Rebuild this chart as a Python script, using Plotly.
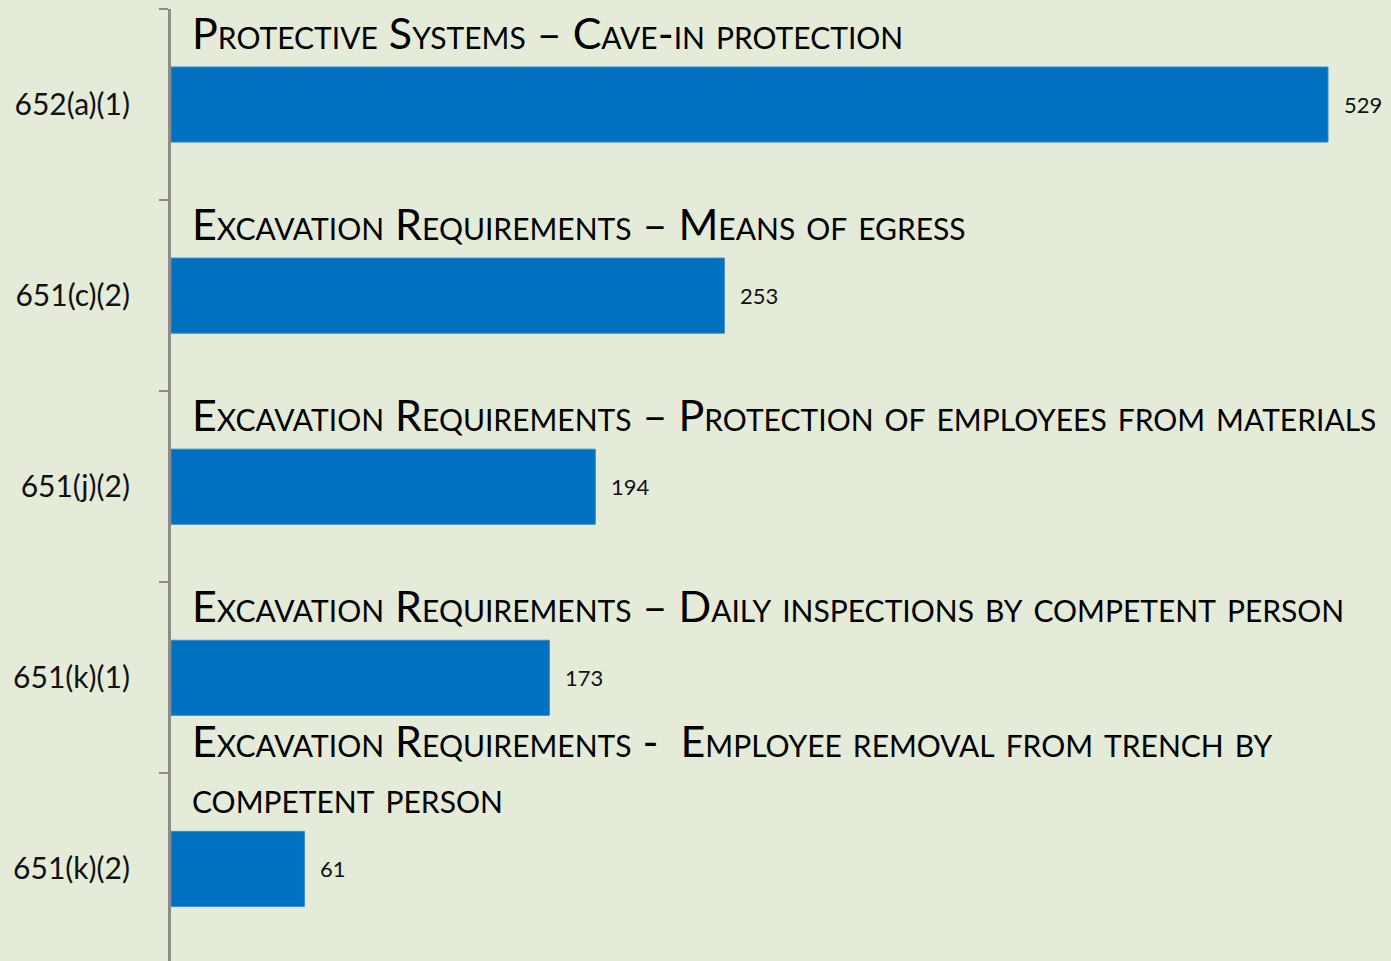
import plotly.graph_objects as go

_BG = "#E4EBD9"
_BLUE = "#0070C0"
_AXIS = "#8C8C8C"
_FONT = "Lato, 'Open Sans', sans-serif"

codes = ["652(a)(1)", "651(c)(2)", "651(j)(2)", "651(k)(1)", "651(k)(2)"]
counts = [529, 253, 194, 173, 61]
titles = [
    "Protective Systems – Cave-in protection",
    "Excavation Requirements – Means of egress",
    "Excavation Requirements – Protection of employees from materials",
    "Excavation Requirements – Daily inspections by competent person",
    "Excavation Requirements -&nbsp; Employee removal from trench by<br>competent person",
]

BAR_W = 0.393

fig = go.Figure(go.Bar(
    x=counts, y=codes,
    orientation="h",
    width=BAR_W,
    marker=dict(color=_BLUE, line=dict(color="#3A8BD0", width=1)),
    hoverinfo="skip",
))

# value labels to the right of each bar
for code, v in zip(codes, counts):
    fig.add_annotation(
        x=v, y=code, text=str(v), showarrow=False,
        xanchor="left", yanchor="middle", xshift=14,
        font=dict(family=_FONT, size=22, color="#111"),
    )

# small-caps descriptions above each bar
for i, t in enumerate(titles):
    fig.add_annotation(
        x=0, y=i - BAR_W / 2, text=t, showarrow=False,
        xanchor="left", yanchor="bottom", align="left",
        xshift=19, yshift=7,
        font=dict(family=_FONT, size=43, color="#000", variant="small-caps"),
    )

fig.update_layout(
    width=1391, height=961,
    plot_bgcolor=_BG, paper_bgcolor=_BG,
    margin=dict(l=171, r=0, t=9, b=0),
    showlegend=False,
    xaxis=dict(range=[0, 557.8], visible=False, fixedrange=True),
    yaxis=dict(
        type="category",
        categoryorder="array", categoryarray=codes,
        range=[4.482, -0.5],
        showline=True, linecolor=_AXIS, linewidth=3,
        ticks="outside", tickson="boundaries", ticklen=9,
        tickcolor=_AXIS, tickwidth=2,
        showgrid=False, zeroline=False,
        ticklabelstandoff=32,
        tickfont=dict(family=_FONT, size=30, color="#111"),
    ),
)

fig.write_html("out.html", config={"displayModeBar": False},
               post_script="document.body.style.margin='0';")
